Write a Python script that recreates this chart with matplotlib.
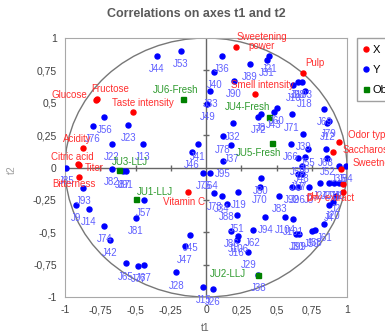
import matplotlib.pyplot as plt
from matplotlib.patches import Circle
from matplotlib.lines import Line2D
from matplotlib.ticker import FuncFormatter, MultipleLocator

plt.rcParams['font.family'] = ['Liberation Sans', 'DejaVu Sans']

# X variables (correlations with t1, t2)
x_names = ['Sweetening\npower', 'Pulp', 'Smell intensity', 'Glucose', 'Fructose',
           'Taste intensity', 'Acidity', 'Citric acid', 'Titer', 'Bitterness',
           'Vitamin C', 'Odor typicity', 'Saccharose', 'Sweetness', 'pH', 'Dry extract']
x_t1 = [0.21, 0.69, 0.35, -0.78, -0.77, -0.52, -0.87, -0.91, -0.90, -0.90,
        -0.13, 0.94, 0.90, 0.96, 0.97, 0.97]
x_t2 = [0.93, 0.73, 0.57, 0.52, 0.53, 0.43, 0.15, 0.03, 0.02, -0.07,
        -0.19, 0.20, 0.12, -0.01, -0.13, -0.19]

# Y variables (panelists)
y_names = ['J44', 'J53', 'J56', 'J76', 'J23', 'J22', 'J13', 'J41', 'J46', 'J85',
           'J82', 'J87', 'J91', 'J93', 'J9', 'J14', 'J57', 'J81', 'J74', 'J42',
           'J65', 'J77', 'J67', 'J45', 'J47', 'J28', 'J15', 'J26', 'J38',
           'J36', 'J40', 'J33', 'J49', 'J89', 'J21', 'J31', 'J90', 'J10', 'J98',
           'J103', 'J18', 'J60', 'J43', 'J71', 'J69', 'J79', 'J12', 'J39', 'J66',
           'J72', 'J8', 'J32', 'J78', 'J37', 'J95', 'J55', 'J68', 'J59', 'J6',
           'J52', 'J48', 'J35', 'J84',
           'J75', 'J64', 'J73', 'J34', 'J88', 'J19', 'J80', 'J70', 'J83', 'J94',
           'J62', 'J51', 'J86', 'J106', 'J16', 'J29', 'J104', 'J101', 'J99', 'J30',
           'J58', 'J50', 'J61', 'J4', 'J20', 'J2', 'J24', 'J27', 'J11', 'J1',
           'J92', 'J96', 'J3', 'J17', 'J7']
y_t1 = [-0.35, -0.18, -0.72, -0.80, -0.55, -0.67, -0.45, -0.06, -0.10, -0.99,
        -0.67, -0.59, -0.57, -0.87, -0.92, -0.83, -0.44, -0.50, -0.72, -0.68,
        -0.57, -0.48, -0.44, -0.11, -0.15, -0.21, -0.02, 0.05, 0.37,
        0.11, 0.06, 0.03, 0.01, 0.31, 0.45, 0.43, 0.20, 0.62, 0.65,
        0.68, 0.70, 0.50, 0.48, 0.61, 0.84, 0.87, 0.86, 0.69, 0.60,
        0.37, 0.39, 0.19, 0.12, 0.18, 0.12, 0.72, 0.85, 0.65, 0.70,
        0.86, 0.68, 0.94, 0.99,
        -0.02, 0.03, 0.06, 0.11, 0.15, 0.23, 0.39, 0.38, 0.52, 0.42,
        0.33, 0.22, 0.18, 0.23, 0.22, 0.30, 0.56, 0.62, 0.66, 0.64,
        0.77, 0.75, 0.84, 0.87, 0.90, 0.92, 0.81, 0.87, 0.91, 0.94,
        0.61, 0.65, 0.73, 0.65, 0.68]
y_t2 = [0.86, 0.90, 0.39, 0.32, 0.33, 0.18, 0.18, 0.18, 0.12, 0.00,
        -0.01, -0.03, -0.03, -0.16, -0.29, -0.32, -0.25, -0.39, -0.45, -0.56,
        -0.74, -0.76, -0.75, -0.52, -0.61, -0.81, -0.92, -0.94, -0.83,
        0.86, 0.74, 0.59, 0.49, 0.80, 0.86, 0.83, 0.67, 0.64, 0.66,
        0.66, 0.59, 0.46, 0.43, 0.41, 0.45, 0.36, 0.34, 0.26, 0.18,
        0.39, 0.41, 0.34, 0.24, 0.17, 0.05, 0.14, 0.14, 0.07, 0.08,
        0.07, 0.01, 0.01, 0.01,
        -0.04, -0.04, -0.20, -0.22, -0.28, -0.19, -0.08, -0.15, -0.22, -0.38,
        -0.48, -0.37, -0.49, -0.53, -0.56, -0.65, -0.38, -0.40, -0.51, -0.51,
        -0.48, -0.49, -0.44, -0.29, -0.27, -0.22, -0.12, -0.12, -0.12, -0.12,
        -0.15, -0.15, -0.15, -0.05, -0.05]

# observations (juices)
obs_names = ['JU6-Fresh', 'JU4-Fresh', 'JU5-Fresh', 'JU3-LLJ', 'JU1-LLJ', 'JU2-LLJ']
obs_t1 = [-0.16, 0.45, 0.47, -0.62, -0.50, 0.37]
obs_t2 = [0.53, 0.39, 0.19, -0.02, -0.24, -0.83]

# label offsets in points (dx, dy, ha)
x_offsets = [(19, 4, 'center'), (8, 7, 'center'), (5, 6.5, 'center'), (-19, 3.5, 'center'),
             (9, 7, 'center'), (7, 6, 'center'), (-4, 6.5, 'center'), (-4, 5, 'center'),
             (4, -2, 'left'), (-4, -5, 'center'), (-3, -7, 'center'), (7, 5, 'left'),
             (7, 1.5, 'left'), (8, 4, 'left'), (-22, -9, 'center'), (-9, -4.5, 'center')]
obs_offsets = [(-6, 6.5, 'center'), (-16, 7, 'center'), (-10, -7, 'center'),
               (8, 6, 'center'), (14, 5, 'center'), (-22, 1, 'center')]

RED, BLUE, GREEN = '#ff0000', '#0000ff', '#008000'

fig = plt.figure(figsize=(3.85, 3.33), dpi=100)
ax = fig.add_axes([65 / 385, 1 - 297 / 333, 282 / 385, 259 / 333])
ax.set_xlim(-1, 1)
ax.set_ylim(-1, 1)

ax.add_patch(Circle((0, 0), 1, fill=False, ec='#777777', lw=1, zorder=1))
ax.axhline(0, color='#666666', lw=1, zorder=1)
ax.axvline(0, color='#666666', lw=1, zorder=1)
tk = [-0.75, -0.5, -0.25, 0.25, 0.5, 0.75]
ax.plot(tk, [0] * len(tk), ls='none', marker='|', ms=5, mew=1, color='#666666', zorder=1)
ax.plot([0] * len(tk), tk, ls='none', marker='_', ms=5, mew=1, color='#666666', zorder=1)

ax.plot(y_t1, y_t2, ls='none', marker='o', ms=3.6, color=BLUE, zorder=3)
ax.plot(x_t1, x_t2, ls='none', marker='o', ms=3.6, color=RED, zorder=4)
ax.plot(obs_t1, obs_t2, ls='none', marker='s', ms=3.6, color=GREEN, zorder=5)

for n, a, b in zip(y_names, y_t1, y_t2):
    ax.annotate(n, (a, b), xytext=(0, -9.5), textcoords='offset points',
                ha='center', va='center', fontsize=7, color='#6060ff', zorder=6)
for n, a, b, (dx, dy, h) in zip(x_names, x_t1, x_t2, x_offsets):
    ax.annotate(n, (a, b), xytext=(dx, dy), textcoords='offset points',
                ha=h, va='center', fontsize=7, color='#ff3030', zorder=7,
                linespacing=0.95, annotation_clip=False)
for n, a, b, (dx, dy, h) in zip(obs_names, obs_t1, obs_t2, obs_offsets):
    ax.annotate(n, (a, b), xytext=(dx, dy), textcoords='offset points',
                ha=h, va='center', fontsize=7, color='#2e9a2e', zorder=7)

fmt = FuncFormatter(lambda v, p: ('%g' % v).replace('.', ','))
ax.xaxis.set_major_locator(MultipleLocator(0.25))
ax.yaxis.set_major_locator(MultipleLocator(0.25))
ax.xaxis.set_major_formatter(fmt)
ax.yaxis.set_major_formatter(fmt)
ax.tick_params(length=0, labelsize=7.5, labelcolor='#404040', pad=6)
for s in ax.spines.values():
    s.set_color('#a8a8a8')

fig.text(196 / 385, 1 - 14 / 333, 'Correlations on axes t1 and t2', ha='center', va='center',
         fontsize=9, weight='bold', color='#5a5a5a')
fig.text(205 / 385, 1 - 328 / 333, 't1', ha='center', va='center', fontsize=7.5, color='#606060')
fig.text(12 / 385, 1 - 170 / 333, 't2', ha='center', va='center', rotation=90,
         fontsize=7.5, color='#a0a0a0')

handles = [Line2D([], [], ls='none', marker='o', ms=3.6, color=RED),
           Line2D([], [], ls='none', marker='o', ms=3.6, color=BLUE),
           Line2D([], [], ls='none', marker='s', ms=3.6, color=GREEN)]
leg = fig.legend(handles, ['X', 'Y', 'Obs'], loc='upper left',
                 bbox_to_anchor=(357 / 385, 1 - 38 / 333), fontsize=8, frameon=True,
                 fancybox=False, edgecolor='#888888', handlelength=0.5, handletextpad=0.3,
                 labelspacing=0.9, borderpad=0.6, borderaxespad=0)
leg.get_frame().set_linewidth(1)

fig.savefig('out.png', dpi=100)
